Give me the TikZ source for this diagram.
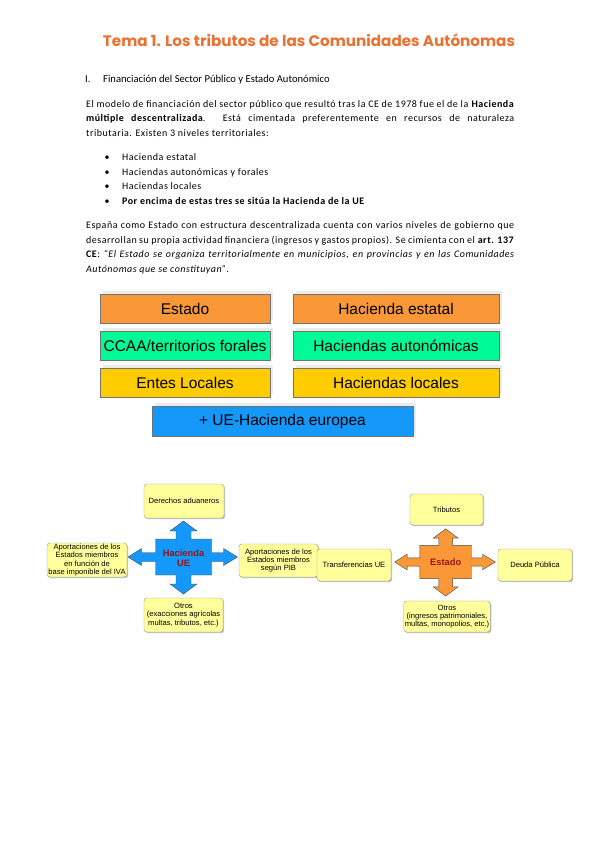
\documentclass[tikz,border=0pt]{standalone}
\usepackage{fontspec}
\setmainfont{Carlito}
\newfontfamily\arialfont{Liberation Sans}
\newfontfamily\titlefont{Poppins}
\newfontfamily\bodyfont{Carlito}[LetterSpace=5]
\usetikzlibrary{positioning, shadows}
\definecolor{ttlOrange}{RGB}{233, 113, 50}
\definecolor{tierOrange}{RGB}{250, 152, 56}
\definecolor{tierGreen}{RGB}{0, 250, 150}
\definecolor{tierYellow}{RGB}{255, 204, 0}
\definecolor{tierBlue}{RGB}{20, 152, 250}
\definecolor{noteYellow}{RGB}{255, 255, 155}
\definecolor{hubRed}{RGB}{150, 20, 20}
\tikzset{
  Ttl/.style   = {anchor=base, inner sep=0pt, text=ttlOrange,
                  font=\titlefont\bfseries\fontsize{15.2}{17}\selectfont},
  Head/.style  = {anchor=base west, inner sep=0pt, font=\fontsize{10.6}{12}\selectfont},
  Para/.style  = {anchor=base west, inner sep=0pt, text width=428pt, align=justify,
                  font=\bodyfont\fontsize{10}{14.7}\selectfont},
  Item/.style  = {anchor=base west, inner sep=0pt, font=\bodyfont\fontsize{10}{14.7}\selectfont},
  Tier/.style  = {draw=black!55, line width=0.5pt, minimum height=29pt, inner sep=0pt,
                  font=\arialfont\fontsize{15.5}{18}\selectfont,
                  drop shadow={shadow xshift=2.5pt, shadow yshift=3.5pt,
                               fill=black!8, opacity=1}},
  Note/.style  = {draw=black!40, line width=0.4pt, fill=noteYellow, rounded corners=3pt,
                  align=center, inner sep=1pt,
                  font=\arialfont\fontsize{7.6}{8.3}\selectfont,
                  drop shadow={shadow xshift=1.2pt, shadow yshift=-1.2pt,
                               fill=black!25, opacity=1}},
  Hub/.style   = {inner sep=0pt, align=center, text=hubRed,
                  font=\arialfont\bfseries\fontsize{9.3}{10.5}\selectfont},
}
% four-way arrow: #1 centre, #2 fill, #3 scale
\newcommand{\crossarrow}[3]{%
  \begin{scope}[shift={#1}, scale=#3]
    \draw[fill=#2, draw=black!70, line width=0.4pt]
      (-28,-18) -- (-7.5,-18) -- (-7.5,-26) -- (-13.5,-26) -- (0,-36)
      -- (13.5,-26) -- (7.5,-26) -- (7.5,-18) -- (28,-18)
      -- (28,-4.5) -- (40,-4.5) -- (40,-8.5) -- (54,0) -- (40,8.5) -- (40,4.5)
      -- (28,4.5) -- (28,18) -- (7.5,18) -- (7.5,27) -- (13.5,27) -- (0,37)
      -- (-13.5,27) -- (-7.5,27) -- (-7.5,18) -- (-28,18)
      -- (-28,4.5) -- (-42,4.5) -- (-42,8.5) -- (-55.5,0) -- (-42,-8.5)
      -- (-42,-4.5) -- (-28,-4.5) -- cycle;
  \end{scope}}

\begin{document}
\begin{tikzpicture}[x=1pt, y=-1pt]
\fill[white] (0,0) rectangle (599,848);
\useasboundingbox (0,0) rectangle (599,848);

% ======================= title and text ===================================
\node[Ttl] (title) at (309,47) {Tema 1. Los tributos de las Comunidades Autónomas};
\node[Head] (secnum) at (85,83) {I.};
\node[Head] (sectitle) at (103,83) {Financiación del Sector Público y Estado Autonómico};

\node[Para] (para1) at (86,107.3)
  {El modelo de financiación del sector público que resultó tras la CE de 1978 fue el de la \textbf{Hacienda}\linebreak
   \textbf{múltiple descentralizada}. Está cimentada preferentemente en recursos de naturaleza\linebreak
   tributaria. Existen 3 niveles territoriales:};

\foreach \txt [count=\i] in {Hacienda estatal, Haciendas autonómicas y forales,
                             Haciendas locales,
                             \textbf{Por encima de estas tres se sitúa la Hacienda de la UE}} {
  \node[Item] (bul\i)  at (104.5, 145.9+\i*14.6) {•};
  \node[Item] (item\i) at (122, 145.9+\i*14.6) {\txt};
}

\node[Para] (para2) at (86,228.5)
  {España como Estado con estructura descentralizada cuenta con varios niveles de gobierno que\linebreak
   desarrollan su propia actividad financiera (ingresos y gastos propios). Se cimienta con el \textbf{art. 137}\linebreak
   \textbf{CE}: \textit{“El Estado se organiza territorialmente en municipios, en provincias y en las Comunidades\linebreak
   Autónomas que se constituyan”}.};

% ======================= levels ===========================================
\node[Tier, fill=tierOrange, minimum width=170pt] (estado) at (185,309) {Estado};
\node[Tier, fill=tierOrange, minimum width=206pt] (hest)   at (396,309) {Hacienda estatal};
\node[Tier, fill=tierGreen,  minimum width=170pt] (ccaa)   at (185,346) {CCAA/territorios forales};
\node[Tier, fill=tierGreen,  minimum width=206pt] (haut)   at (396,346) {Haciendas autonómicas};
\node[Tier, fill=tierYellow, minimum width=170pt] (entes)  at (185,383) {Entes Locales};
\node[Tier, fill=tierYellow, minimum width=206pt] (hloc)   at (396,383) {Haciendas locales};
\node[Tier, fill=tierBlue, minimum width=261pt, minimum height=30pt] (ue) at (282.5,421)
  {+ UE-Hacienda europea};

% ======================= Hacienda UE ======================================
\crossarrow{(183.5,557)}{tierBlue}{1}
\node[Hub] (uehub) at (183.5,558) {Hacienda\\UE};
\node[Note, minimum width=80pt, minimum height=34pt] (aduana) at (184,501) {Derechos aduaneros};
\node[Note, minimum width=80pt, minimum height=34pt] (aportiva) at (87,560)
  {Aportaciones de los\\Estados miembros\\en función de\\base imponible del IVA};
\node[Note, minimum width=79pt, minimum height=33pt] (aportpib) at (278.5,560.5)
  {Aportaciones de los\\Estados miembros\\según PIB};
\node[Note, minimum width=79pt, minimum height=34pt] (otrosue) at (183.5,615)
  {Otros\\(exacciones agrícolas\\multas, tributos, etc.)};

% ======================= Estado ===========================================
\crossarrow{(445.7,562)}{tierOrange}{0.92}
\node[Hub] (esthub) at (445.7,562) {Estado};
\node[Note, minimum width=73pt, minimum height=31pt] (tributos) at (446.5,509.5) {Tributos};
\node[Note, minimum width=74pt, minimum height=32pt] (transf) at (354,565) {Transferencias UE};
\node[Note, minimum width=74pt, minimum height=32pt] (deuda) at (535,565) {Deuda Pública};
\node[Note, minimum width=74pt, minimum height=31pt] (otrosest) at (447,616.5)
  {Otros\\(ingresos patrimoniales,\\multas, monopolios, etc.)};

\end{tikzpicture}
\end{document}
